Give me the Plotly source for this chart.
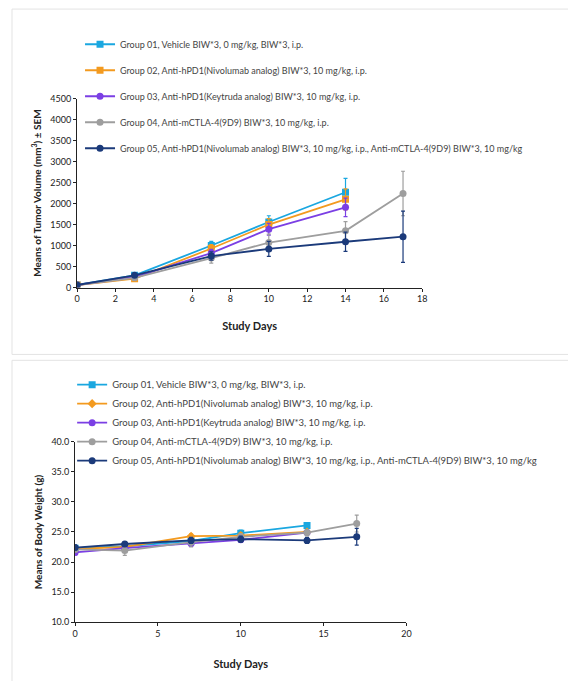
import plotly.graph_objects as go

W, H = 576, 681
def py(p): return 1 - p / H
def px(p): return p / W

names = ["Group 01, Vehicle BIW*3, 0 mg/kg, BIW*3, i.p.",
         "Group 02, Anti-hPD1(Nivolumab analog) BIW*3, 10 mg/kg, i.p.",
         "Group 03, Anti-hPD1(Keytruda analog) BIW*3, 10 mg/kg, i.p.",
         "Group 04, Anti-mCTLA-4(9D9) BIW*3, 10 mg/kg, i.p.",
         "Group 05, Anti-hPD1(Nivolumab analog) BIW*3, 10 mg/kg, i.p., Anti-mCTLA-4(9D9) BIW*3, 10 mg/kg"]
colors = ["#1aa7e0", "#f39a1f", "#7b3fe4", "#9e9e9e", "#1b3a7a"]

days5 = [0, 3, 7, 10, 14]
days6 = [0, 3, 7, 10, 14, 17]
tv_days = [days5, days5, days5, days6, days6]
tv = [[60, 290, 1000, 1560, 2270],
      [60, 210, 930, 1500, 2100],
      [60, 250, 820, 1390, 1910],
      [60, 230, 700, 1070, 1350, 2240],
      [60, 290, 750, 920, 1090, 1210]]
tv_err = [[30, 40, 100, 150, 330],
          [30, 40, 90, 140, 250],
          [30, 40, 90, 140, 220],
          [30, 40, 120, 200, 220, 530],
          [30, 40, 100, 180, 230, 610]]
bw = [[22.3, 22.6, 23.5, 24.8, 26.1],
      [22.2, 22.5, 24.3, 24.4, 25.0],
      [21.6, 22.3, 23.1, 23.7, 24.9],
      [22.1, 21.9, 23.3, 24.2, 24.9, 26.4],
      [22.4, 23.0, 23.6, 23.8, 23.6, 24.2]]
bw_err = [[0.4, 0.4, 0.5, 0.5, 0.4],
          [0.4, 0.4, 0.4, 0.4, 0.4],
          [0.4, 0.4, 0.5, 0.4, 0.4],
          [0.4, 0.8, 0.8, 0.5, 0.5, 1.4],
          [0.4, 0.4, 0.5, 0.5, 0.5, 1.4]]
sym_top = ["square", "square", "circle", "circle", "circle"]
sym_bot = ["square", "diamond", "circle", "circle", "circle"]

fig = go.Figure()
for i in range(5):
    fig.add_trace(go.Scatter(x=tv_days[i], y=tv[i], name=names[i], mode="lines+markers",
        line=dict(color=colors[i], width=1.8), marker=dict(symbol=sym_top[i], size=7, color=colors[i]),
        error_y=dict(type="data", array=tv_err[i], color=colors[i], thickness=1.2, width=2),
        legend="legend", legendgroup="a%d" % i, xaxis="x", yaxis="y"))
for i in range(5):
    fig.add_trace(go.Scatter(x=tv_days[i], y=bw[i], name=names[i], mode="lines+markers",
        line=dict(color=colors[i], width=1.8), marker=dict(symbol=sym_bot[i], size=7, color=colors[i]),
        error_y=dict(type="data", array=bw_err[i], color=colors[i], thickness=1.2, width=2),
        legend="legend2", legendgroup="b%d" % i, xaxis="x2", yaxis="y2"))

common = dict(showgrid=False, zeroline=False, showline=True, linecolor="#222", linewidth=1.2,
              ticks="outside", ticklen=3, tickcolor="#222", tickfont=dict(family="Lato", size=9, color="#222"))
leg = dict(bgcolor="rgba(0,0,0,0)", xanchor="left", yanchor="top", itemwidth=30)
fig.update_layout(
    width=W, height=H, margin=dict(l=0, r=0, t=0, b=0), plot_bgcolor="white", paper_bgcolor="white",
    xaxis=dict(domain=[px(67), px(417)], range=[0, 18], dtick=2, anchor="y",
               title=dict(text="<b>Study Days</b>", font=dict(family="Lato", size=11, color="#222"), standoff=18), **common),
    yaxis=dict(domain=[py(278), py(86)], range=[0, 4500], dtick=500, anchor="x",
               title=dict(text="<b>Means of Tumor Volume (mm<sup>3</sup>) ± SEM</b>", font=dict(family="Lato", size=10, color="#222"), standoff=6), **common),
    xaxis2=dict(domain=[px(65), px(401)], range=[0, 20], dtick=5, anchor="y2",
                title=dict(text="<b>Study Days</b>", font=dict(family="Lato", size=11, color="#222"), standoff=22), **common),
    yaxis2=dict(domain=[py(618), py(435)], range=[10, 40], dtick=5, tickformat=".1f", anchor="x2",
                title=dict(text="<b>Means of Body Weight (g)</b>", font=dict(family="Lato", size=10, color="#222"), standoff=6), **common),
    legend=dict(x=px(70), y=py(16), tracegroupgap=7,
                font=dict(family="Lato, DejaVu Sans", size=9, color="#444"), **leg),
    legend2=dict(x=px(62), y=py(362), tracegroupgap=0,
                 font=dict(family="Lato, DejaVu Sans", size=9.5, color="#444"), **leg),
    shapes=[dict(type="rect", xref="paper", yref="paper", x0=px(1), x1=px(574), y0=py(346), y1=py(-5),
                 line=dict(color="#e3e3e3", width=1)),
            dict(type="rect", xref="paper", yref="paper", x0=px(1), x1=px(574), y0=py(686), y1=py(352),
                 line=dict(color="#e3e3e3", width=1))],
)
fig.write_html("out.html")
